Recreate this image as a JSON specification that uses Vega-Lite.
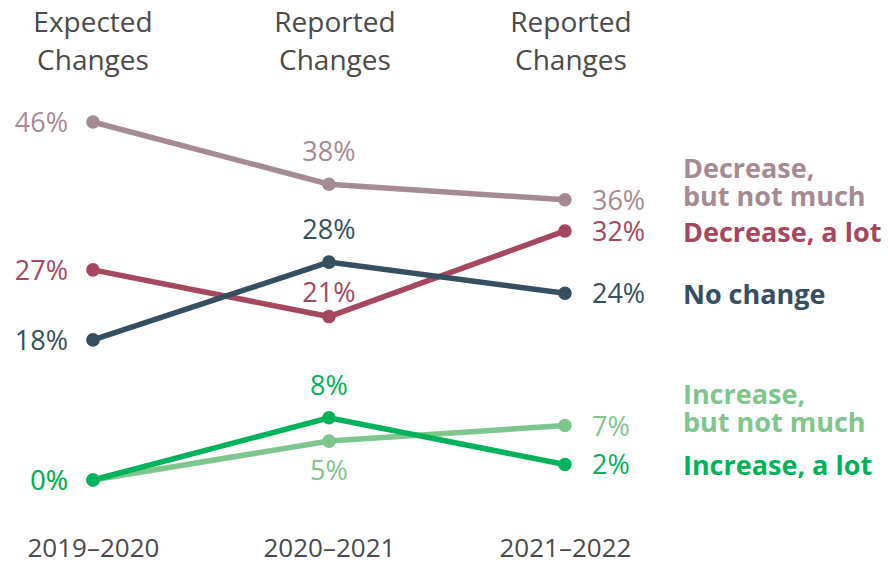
{
  "$schema": "https://vega.github.io/schema/vega-lite/v6.json",
  "width": 888,
  "height": 530,
  "autosize": "none",
  "padding": {"left": 0, "top": 0, "right": 0, "bottom": 34},
  "background": "white",
  "config": {"view": {"stroke": null}, "font": "Open Sans"},
  "datasets": {
    "main": [
      {"series": "Decrease, but not much", "idx": 0, "value": 46},
      {"series": "Decrease, but not much", "idx": 1, "value": 38},
      {"series": "Decrease, but not much", "idx": 2, "value": 36},
      {"series": "Decrease, a lot", "idx": 0, "value": 27},
      {"series": "Decrease, a lot", "idx": 1, "value": 21},
      {"series": "Decrease, a lot", "idx": 2, "value": 32},
      {"series": "No change", "idx": 0, "value": 18},
      {"series": "No change", "idx": 1, "value": 28},
      {"series": "No change", "idx": 2, "value": 24},
      {"series": "Increase, but not much", "idx": 0, "value": 0},
      {"series": "Increase, but not much", "idx": 1, "value": 5},
      {"series": "Increase, but not much", "idx": 2, "value": 7},
      {"series": "Increase, a lot", "idx": 0, "value": 0},
      {"series": "Increase, a lot", "idx": 1, "value": 8},
      {"series": "Increase, a lot", "idx": 2, "value": 2}
    ],
    "names": [
      {"series": "Decrease, but not much", "name": "Decrease,\nbut not much", "lines": 2},
      {"series": "Decrease, a lot", "name": "Decrease, a lot", "lines": 1},
      {"series": "No change", "name": "No change", "lines": 1},
      {"series": "Increase, but not much", "name": "Increase,\nbut not much", "lines": 2},
      {"series": "Increase, a lot", "name": "Increase, a lot", "lines": 1}
    ],
    "headers": [
      {"idx": 0, "value": 58.6, "header": "Expected\nChanges"},
      {"idx": 1, "value": 58.6, "header": "Reported\nChanges"},
      {"idx": 2, "value": 58.6, "header": "Reported\nChanges"}
    ]
  },
  "data": {"name": "main"},
  "encoding": {
    "x": {
      "field": "idx", "type": "quantitative",
      "scale": {"domain": [-0.394, 3.369], "nice": false, "zero": false},
      "axis": {
        "values": [0, 1, 2],
        "labelExpr": "datum.value == 0 ? '2019–2020' : datum.value == 1 ? '2020–2021' : '2021–2022'",
        "title": null, "domain": false, "ticks": false, "grid": false,
        "labelFontSize": 26, "labelColor": "#4a4a4a", "labelPadding": 5,
        "labelFont": "Open Sans"
      }
    },
    "y": {
      "field": "value", "type": "quantitative",
      "scale": {"domain": [-6.42, 61.67], "nice": false, "zero": false},
      "axis": null
    },
    "color": {
      "field": "series", "type": "nominal", "legend": null,
      "scale": {
        "domain": ["Decrease, but not much", "Decrease, a lot", "No change", "Increase, but not much", "Increase, a lot"],
        "range": ["#A68A93", "#A5475E", "#344E62", "#7DC68C", "#00B25A"]
      }
    }
  },
  "layer": [
    {"mark": {"type": "line", "strokeWidth": 5.5}, "encoding": {"detail": {"field": "series"}}},
    {"mark": {"type": "circle", "size": 185, "opacity": 1}},
    {
      "transform": [{"filter": "datum.idx == 0"}, {"calculate": "datum.value + '%'", "as": "lab"}],
      "mark": {"type": "text", "align": "right", "baseline": "middle", "dx": -25, "dy": 2, "fontSize": 27},
      "encoding": {"text": {"field": "lab"}}
    },
    {
      "transform": [{"filter": "datum.idx == 1 && datum.series != 'Increase, but not much' && datum.series != 'Decrease, a lot'"}, {"calculate": "datum.value + '%'", "as": "lab"}],
      "mark": {"type": "text", "align": "center", "baseline": "middle", "dy": -31, "fontSize": 27},
      "encoding": {"text": {"field": "lab"}}
    },
    {
      "transform": [{"filter": "datum.idx == 1 && datum.series == 'Decrease, a lot'"}, {"calculate": "datum.value + '%'", "as": "lab"}],
      "mark": {"type": "text", "align": "center", "baseline": "middle", "dy": -23, "fontSize": 27},
      "encoding": {"text": {"field": "lab"}}
    },
    {
      "transform": [{"filter": "datum.idx == 1 && datum.series == 'Increase, but not much'"}, {"calculate": "datum.value + '%'", "as": "lab"}],
      "mark": {"type": "text", "align": "center", "baseline": "middle", "dy": 31, "fontSize": 27},
      "encoding": {"text": {"field": "lab"}}
    },
    {
      "transform": [{"filter": "datum.idx == 2"}, {"calculate": "datum.value + '%'", "as": "lab"}],
      "mark": {"type": "text", "align": "left", "baseline": "middle", "dx": 27, "dy": 2, "fontSize": 27},
      "encoding": {"text": {"field": "lab"}}
    },
    {
      "transform": [
        {"filter": "datum.idx == 2"},
        {"lookup": "series", "from": {"data": {"name": "names"}, "key": "series", "fields": ["name", "lines"]}},
        {"filter": "datum.lines == 2"}
      ],
      "mark": {"type": "text", "align": "left", "baseline": "middle", "dx": 118, "dy": -30, "fontSize": 27, "fontWeight": "bold", "lineBreak": "\n", "lineHeight": 28},
      "encoding": {"text": {"field": "name"}}
    },
    {
      "transform": [
        {"filter": "datum.idx == 2"},
        {"lookup": "series", "from": {"data": {"name": "names"}, "key": "series", "fields": ["name", "lines"]}},
        {"filter": "datum.lines == 1"}
      ],
      "mark": {"type": "text", "align": "left", "baseline": "middle", "dx": 118, "dy": 3, "fontSize": 27, "fontWeight": "bold"},
      "encoding": {"text": {"field": "name"}}
    },
    {
      "data": {"name": "headers"},
      "transform": [{"filter": "datum.idx == 0"}],
      "mark": {"type": "text", "align": "center", "baseline": "middle", "fontSize": 28, "lineBreak": "\n", "lineHeight": 38},
      "encoding": {"text": {"field": "header"}, "color": {"value": "#4a4a4a"}}
    },
    {
      "data": {"name": "headers"},
      "transform": [{"filter": "datum.idx > 0"}],
      "mark": {"type": "text", "align": "center", "baseline": "middle", "dx": 6, "fontSize": 28, "lineBreak": "\n", "lineHeight": 38},
      "encoding": {"text": {"field": "header"}, "color": {"value": "#4a4a4a"}}
    }
  ]
}
